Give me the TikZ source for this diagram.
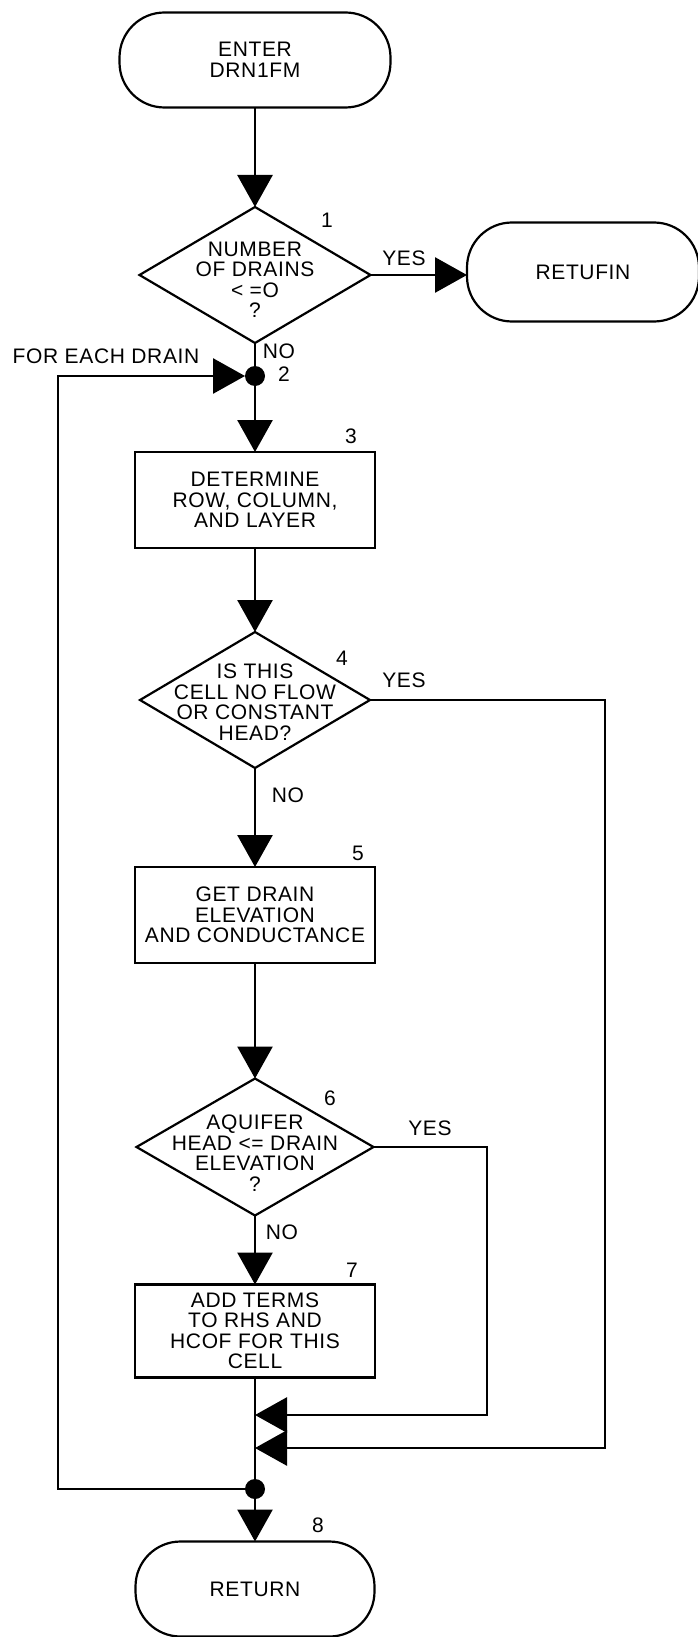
\documentclass[tikz,border=0pt]{standalone}
\usepackage{fontspec}
\setmainfont{Liberation Sans}[LetterSpace=3]
\usetikzlibrary{arrows.meta,shapes.geometric,calc}
\definecolor{FlowClr}{rgb}{0,0,0}

\begin{document}
\begin{tikzpicture}[x=1pt,y=-1pt,font=\fontsize{21}{20.5}\selectfont,
  every node/.style={inner sep=0pt,outer sep=0pt},
  term/.style={draw=FlowClr,line width=2.2pt,rounded corners=45pt,minimum width=#1,minimum height=95pt,align=center},
  proc/.style={draw=FlowClr,line width=2.2pt,minimum width=240pt,minimum height=96pt,align=center},
  dec/.style={draw=FlowClr,diamond,line width=2.2pt,minimum width=#1,minimum height=136pt},
  flow/.style={draw=FlowClr,line width=2.7pt},
  arr/.style={flow,-{Triangle[length=32pt,width=35pt]}},
  junc/.style={circle,fill=FlowClr,minimum size=20pt}]
\useasboundingbox (0,0) rectangle (697,1637);

\node[term=271pt] (start) at (255,60) {ENTER\\DRN1FM};
\node[dec=231pt] (d1) at (255,275) {};
\node[align=center] (d1t) at (255,280) {NUMBER\\OF DRAINS\\< =O\\?};
\node[term=232pt,minimum height=99pt] (ret1) at (583,272) {RETUFIN};
\node[junc] (j1) at (255,376) {};
\node[proc] (b3) at (255,500) {DETERMINE\\ROW, COLUMN,\\AND LAYER};
\node[dec=230pt] (d4) at (255,700) {};
\node[align=center] (d4t) at (255,702) {IS THIS\\CELL NO FLOW\\OR CONSTANT\\HEAD?};
\node[proc] (b5) at (255,915) {GET DRAIN\\ELEVATION\\AND CONDUCTANCE};
\node[dec=237pt,minimum height=137pt] (d6) at (255,1147) {};
\node[align=center] (d6t) at (255,1153) {AQUIFER\\HEAD <= DRAIN\\ELEVATION\\?};
\node[proc,minimum height=93pt] (b7) at (255,1331) {ADD TERMS\\TO RHS AND\\HCOF FOR THIS\\CELL};
\node[junc] (j2) at (255,1489) {};
\node[term=239pt] (stop) at (255,1589) {RETURN};

\coordinate (c4) at (605,1448);
\coordinate (m4) at (255,1448);
\coordinate (c6) at (487,1415);
\coordinate (m6) at (255,1415);
\coordinate (lb) at (58,1489);
\coordinate (lt) at (58,376);

\draw[arr] (start) -- (d1);
\draw[arr] (d1.east) -- (d1.east -| ret1.west);
\draw[flow] (d1) -- (j1);
\draw[arr] (j1) -- (b3);
\draw[arr] (b3) -- (d4);
\draw[arr] (d4) -- (b5);
\draw[arr] (b5) -- (d6);
\draw[arr] (d6) -- (b7);
\draw[flow] (b7) -- (j2);
\draw[arr] (j2) -- (stop);
\draw[arr] (d4.east) -| (c4) -- (m4);
\draw[arr] (d6.east) -| (c6) -- (m6);
\draw[arr] (j2) -- (lb) -- (lt) -- (j1);

\node (n1) at (327,220) {1};
\node (yes1) at (404,258) {YES};
\node (no1) at (279,351) {NO};
\node (n2) at (284,374) {2};
\node (loop) at (106,356) {FOR EACH DRAIN};
\node (n3) at (351,436) {3};
\node (n4) at (342,658) {4};
\node (yes4) at (404,680) {YES};
\node (no4) at (288,795) {NO};
\node (n5) at (358,853) {5};
\node (n6) at (330,1098) {6};
\node (yes6) at (430,1128) {YES};
\node (no6) at (282,1232) {NO};
\node (n7) at (352,1270) {7};
\node (n8) at (318,1525) {8};
\end{tikzpicture}
\end{document}
